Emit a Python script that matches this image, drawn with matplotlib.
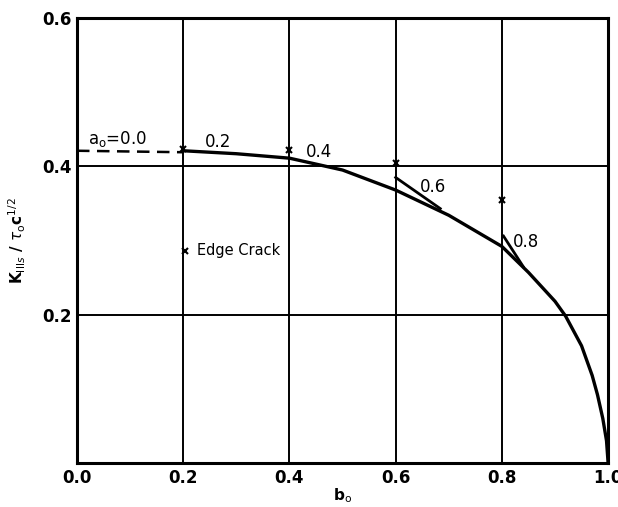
import matplotlib.pyplot as plt
import numpy as np

# ── data ──────────────────────────────────────────────────────────────────────
b_main = [0.2, 0.3, 0.4, 0.45, 0.5, 0.6, 0.7, 0.8, 0.85, 0.9, 0.92, 0.95, 0.97, 0.98, 0.99, 0.997, 1.0]
k_main = [0.421, 0.417, 0.411, 0.403, 0.395, 0.368, 0.334, 0.292, 0.257, 0.218, 0.198, 0.158, 0.118, 0.092, 0.060, 0.030, 0.0]

b_dash = [0.0, 0.2]
k_dash = [0.421, 0.419]

# branch segments for a_o = 0.6 and 0.8 joining the main curve
b_br06 = [0.6, 0.684]
k_br06 = [0.385, 0.343]
b_br08 = [0.803, 0.84]
k_br08 = [0.306, 0.265]

# edge crack points
b_edge = [0.2, 0.4, 0.6, 0.8]
k_edge = [0.423, 0.422, 0.404, 0.354]

a_labels = ["0.2", "0.4", "0.6", "0.8"]
a_label_xy = [(0.24, 0.433), (0.43, 0.419), (0.645, 0.372), (0.82, 0.298)]

xticks = [0.0, 0.2, 0.4, 0.6, 0.8, 1.0]
xticklabels = ["0.0", "0.2", "0.4", "0.6", "0.8", "1.0"]
yticks = [0.2, 0.4, 0.6]
yticklabels = ["0.2", "0.4", "0.6"]

# ── plot ──────────────────────────────────────────────────────────────────────
fig = plt.figure(figsize=(6.18, 5.07), dpi=100)
ax = fig.add_axes([0.1246, 0.0868, 0.8594, 0.8777])

ax.plot(b_main, k_main, color="black", lw=2.4, solid_capstyle="butt")
ax.plot(b_dash, k_dash, color="black", lw=1.8, ls=(0, (5, 3)))
ax.plot(b_br06, k_br06, color="black", lw=2.0)
ax.plot(b_br08, k_br08, color="black", lw=2.0)
ax.plot(b_edge, k_edge, ls="none", marker="x", ms=4, mew=1.5, color="black")

ax.text(0.02, 0.437, r"a$_\mathrm{o}$=0.0", fontsize=12, va="center")
for lab, (xl, yl) in zip(a_labels, a_label_xy):
    ax.text(xl, yl, lab, fontsize=12, va="center")

ax.plot([0.203], [0.286], ls="none", marker="x", ms=4, mew=1.5, color="black")
ax.text(0.225, 0.286, "Edge Crack", fontsize=10.5, va="center")

ax.set_xlim(0, 1.0)
ax.set_ylim(0, 0.6)
ax.set_xticks(xticks)
ax.set_xticklabels(xticklabels, fontsize=12, fontweight="bold")
ax.set_yticks(yticks)
ax.set_yticklabels(yticklabels, fontsize=12, fontweight="bold")
ax.tick_params(length=0, pad=4)
ax.grid(True, color="black", lw=1.4)
for s in ax.spines.values():
    s.set_linewidth(2.2)

ax.set_xlabel(r"b$_\mathrm{o}$", fontsize=11, fontweight="bold", labelpad=0)
ax.set_ylabel(r"K$_{\mathrm{III}s}$ / $\tau_\mathrm{o}$c$^{1/2}$", fontsize=11,
              fontweight="bold", labelpad=10)

fig.savefig("out.png", dpi=100)
